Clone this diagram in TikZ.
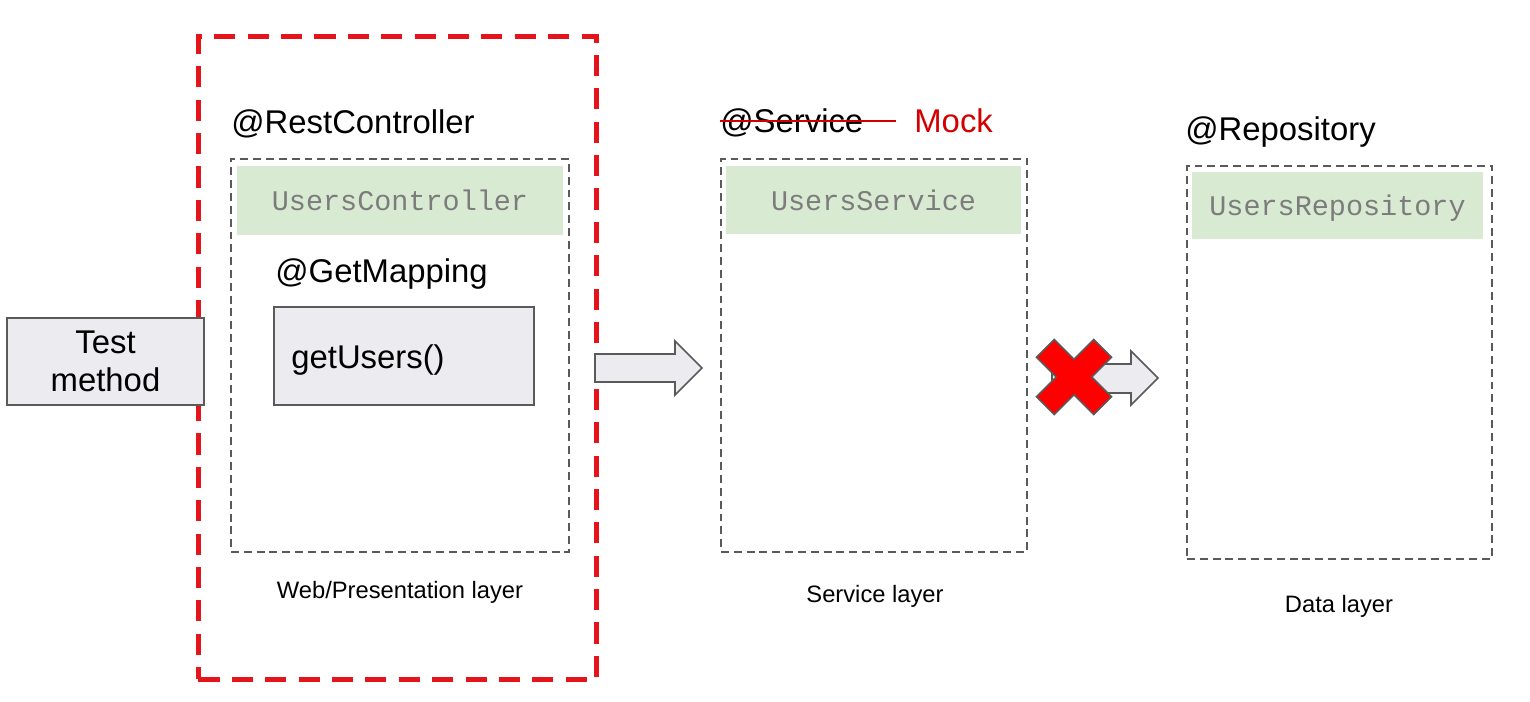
\documentclass[tikz,border=0pt]{standalone}
\usepackage{fontspec}
\setmainfont{Liberation Sans}
\setmonofont{Liberation Mono}
\usetikzlibrary{positioning}

\definecolor{headgreen}{HTML}{D9EAD3}
\definecolor{boxgrey}{HTML}{ECEBEF}
\definecolor{linegrey}{HTML}{5A5A5A}
\definecolor{codegrey}{HTML}{7C7C7C}
\definecolor{mockred}{HTML}{D40000}
\definecolor{framered}{HTML}{E5141B}

\newcommand{\px}{0.02cm}

\tikzset{
  layerbox/.style={draw=linegrey, line width=0.85pt, dash pattern=on 4.5pt off 2.8pt,
    inner sep=0pt, outer sep=0pt, anchor=north west},
  classhead/.style={fill=headgreen, inner sep=0pt, outer sep=0pt, anchor=north west,
    font=\fontsize{16.2}{18}\ttfamily, text=codegrey, text depth=0pt},
  plainbox/.style={draw=linegrey, fill=boxgrey, line width=0.9pt, inner sep=0pt,
    outer sep=0pt, anchor=north west},
  annot/.style={font=\fontsize{18.7}{21.5}\selectfont, inner sep=0pt, anchor=base west},
  layername/.style={font=\fontsize{13.5}{16}\selectfont, inner sep=0pt},
  blockarrow/.style={draw=linegrey, fill=boxgrey, line width=0.9pt},
}

\begin{document}
\begin{tikzpicture}[x=\px,y=-\px]

\useasboundingbox (0,0) rectangle (1530,701);

% scope of the test
\node[draw=framered, line width=2.8pt, dash pattern=on 12pt off 7pt, inner sep=0pt,
  anchor=north west, minimum width=398*\px, minimum height=643*\px] (webscope) at (196,34) {};

% layers
\node[layerbox, minimum width=338*\px, minimum height=393*\px] (ctrl) at (231,159) {};
\node[layerbox, minimum width=306*\px, minimum height=393*\px] (serv) at (721,159) {};
\node[layerbox, minimum width=305*\px, minimum height=393*\px] (repo) at (1187,166) {};

\node[classhead, minimum width=326*\px, minimum height=69*\px] (ctrlhead) at (237,166) {UsersController};
\node[classhead, minimum width=295*\px, minimum height=68*\px] (servhead) at (726,166) {UsersService};
\node[classhead, minimum width=291*\px, minimum height=67*\px] (repohead) at (1192,172) {UsersRepository};

\node[annot] (restann) at (231,133) {@RestController};
\node[annot] (getann) at (275,282) {@GetMapping};
\node[annot] (servann) at (720,132) {@Service};
\node[annot, text=mockred] (mock) at (914,132) {Mock};
\node[annot] (repoann) at (1185,140) {@Repository};

\draw[mockred, line width=0.9pt] (720,121) -- (896,121);

% methods
\node[plainbox, minimum width=197*\px, minimum height=87*\px, align=center,
  font=\fontsize{18.7}{22}\selectfont] (test) at (7,318) {Test\\method};
\node[plainbox, minimum width=260*\px, minimum height=98*\px] (handler) at (274,307) {};
\node[annot] (handlername) at (291,368) {getUsers()};

\node[layername] (weblayer) at (400,592) {Web/Presentation layer};
\node[layername] (servlayer) at (875,596) {Service layer};
\node[layername] (datalayer) at (1339,606) {Data layer};

% calls
\draw[blockarrow] (595,354) -- (675,354) -- (675,341) -- (702,368) -- (675,395)
  -- (675,382) -- (595,382) -- cycle;
\draw[blockarrow] (1052,364) -- (1131,364) -- (1131,351) -- (1158,378) -- (1131,405)
  -- (1131,393) -- (1052,393) -- cycle;

% blocked
\draw[fill=red, draw=linegrey, line width=0.9pt, shift={(1074,377)}, rotate=45]
  (-12.5,-40.5) -- (12.5,-40.5) -- (12.5,-12.5) -- (40.5,-12.5) -- (40.5,12.5)
  -- (12.5,12.5) -- (12.5,40.5) -- (-12.5,40.5) -- (-12.5,12.5) -- (-40.5,12.5)
  -- (-40.5,-12.5) -- (-12.5,-12.5) -- cycle;

\end{tikzpicture}
\end{document}
